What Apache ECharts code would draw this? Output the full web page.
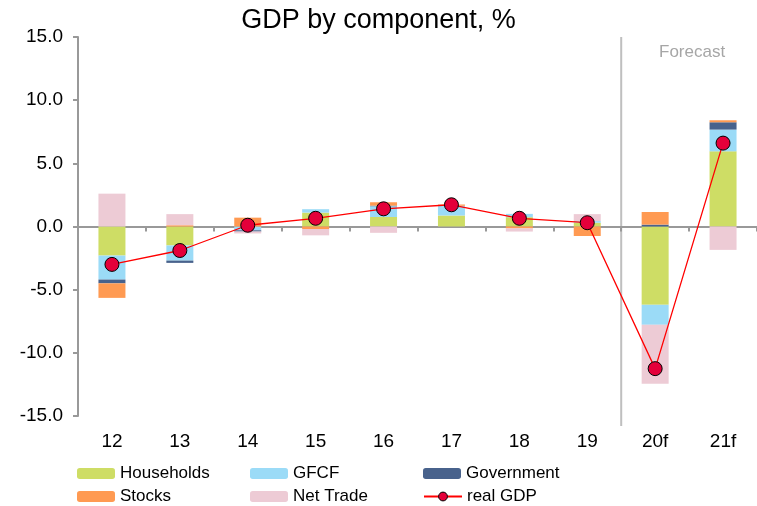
<!DOCTYPE html>
<html>
<head>
<meta charset="utf-8">
<script src="https://cdn.jsdelivr.net/npm/echarts@6/dist/echarts.min.js"></script>
<style>html,body{margin:0;padding:0;background:#fff}#c{width:757px;height:506px}</style>
</head>
<body>
<div id="c"></div>
<script>
const categories = ['12','13','14','15','16','17','18','19','20f','21f'];
const households = [-2.3, -1.5, 0, 1.1, 0.75, 0.87, 0.74, 0.3, -6.2, 5.95];
const gfcf = [-1.9, -1.2, -0.3, 0.27, 0.85, 0.77, 0.26, 0.13, -1.58, 1.72];
const government = [-0.3, -0.18, -0.1, 0, 0.05, 0, 0, 0, 0.15, 0.58];
const stocks = [-1.15, 0.1, 0.7, -0.2, 0.27, 0.1, -0.15, -0.75, 1.0, 0.16];
const netTrade = [2.6, 0.88, -0.15, -0.5, -0.5, 0, -0.25, 0.55, -4.67, -1.85];
const realGDP = [-3.0, -1.9, 0.1, 0.65, 1.4, 1.72, 0.65, 0.3, -11.25, 6.6];
const forecastStart = '20f';

const FONT = 'Liberation Sans, Arial, sans-serif';
const chart = echarts.init(document.getElementById('c'));
const barBase = {type: 'bar', stack: 'gdp', barWidth: 27, xAxisIndex: 0};
const legendText = {fontFamily: FONT, fontSize: 17, color: '#000'};
function legendItem(left, top, name) {
  return {orient: 'horizontal', left: left, top: top, itemWidth: 38, itemHeight: 11,
    itemGap: 4, padding: 0, textStyle: legendText, data: [name], selectedMode: false};
}
chart.setOption({
  animation: false,
  title: {text: 'GDP by component, %', left: 'center', top: 2,
    textStyle: {fontFamily: FONT, fontSize: 27, fontWeight: 'normal', color: '#000'}},
  grid: {left: 78, top: 37, width: 682, bottom: 90},
  legend: [
    legendItem(77, 465, 'Households'),
    legendItem(77, 488, 'Stocks'),
    legendItem(250, 465, 'GFCF'),
    legendItem(250, 488, 'Net Trade'),
    legendItem(423, 465, 'Government'),
    legendItem(423, 488, {name: 'real GDP', itemStyle: {color: '#E4003A', borderColor: '#000', borderWidth: 1}})
  ],
  xAxis: [
    {type: 'category', data: categories, position: 'bottom',
      axisLine: {show: false, onZero: false}, axisTick: {show: false},
      axisLabel: {fontFamily: FONT, fontSize: 19, color: '#000', margin: 16}},
    {type: 'category', data: categories, position: 'bottom',
      axisLine: {show: true, onZero: true, lineStyle: {color: '#999', width: 2}},
      axisTick: {show: true, length: 5, lineStyle: {color: '#999', width: 2}},
      axisLabel: {show: false}}
  ],
  yAxis: {type: 'value', min: -15, max: 15, interval: 5,
    axisLine: {show: true, lineStyle: {color: '#999', width: 2}},
    axisTick: {show: true, length: 5, lineStyle: {color: '#999', width: 2}},
    splitLine: {show: false},
    axisLabel: {fontFamily: FONT, fontSize: 19, color: '#000', margin: 15,
      formatter: v => v.toFixed(1)}},
  series: [
    Object.assign({name: 'Households', data: households, itemStyle: {color: '#CEDD65'}}, barBase),
    Object.assign({name: 'GFCF', data: gfcf, itemStyle: {color: '#9BDBF7'}}, barBase),
    Object.assign({name: 'Government', data: government, itemStyle: {color: '#48628C'}}, barBase),
    Object.assign({name: 'Stocks', data: stocks, itemStyle: {color: '#FF9A52'}}, barBase),
    Object.assign({name: 'Net Trade', data: netTrade, itemStyle: {color: '#EDCBD5'}}, barBase),
    {name: 'real GDP', type: 'line', data: realGDP, xAxisIndex: 0, z: 10,
      symbol: 'circle', symbolSize: 14,
      lineStyle: {color: '#FF0000', width: 1.3},
      itemStyle: {color: '#E4003A', borderColor: '#000', borderWidth: 1}}
  ]
});

// forecast divider, placed through the axis scales
const idx = categories.indexOf(forecastStart);
const xa = chart.convertToPixel({xAxisIndex: 0}, categories[idx - 1]);
const xb = chart.convertToPixel({xAxisIndex: 0}, categories[idx]);
const xMid = (xa + xb) / 2;
const yTop = chart.convertToPixel({yAxisIndex: 0}, 15);
const yBot = chart.convertToPixel({yAxisIndex: 0}, -15);
const xLast = chart.convertToPixel({xAxisIndex: 0}, categories[categories.length - 1]);
chart.setOption({
  graphic: [
    {type: 'line', shape: {x1: xMid, y1: yTop, x2: xMid, y2: yBot + 10},
      style: {stroke: '#BFBFBF', lineWidth: 2}, z: 0},
    {type: 'text', x: (xMid + xLast + (xb - xa) / 2) / 2 + 3, y: yTop + 15,
      style: {text: 'Forecast', fill: '#A6A6A6', font: '17px ' + FONT, align: 'center', verticalAlign: 'middle'}}
  ]
});
</script>
</body>
</html>
